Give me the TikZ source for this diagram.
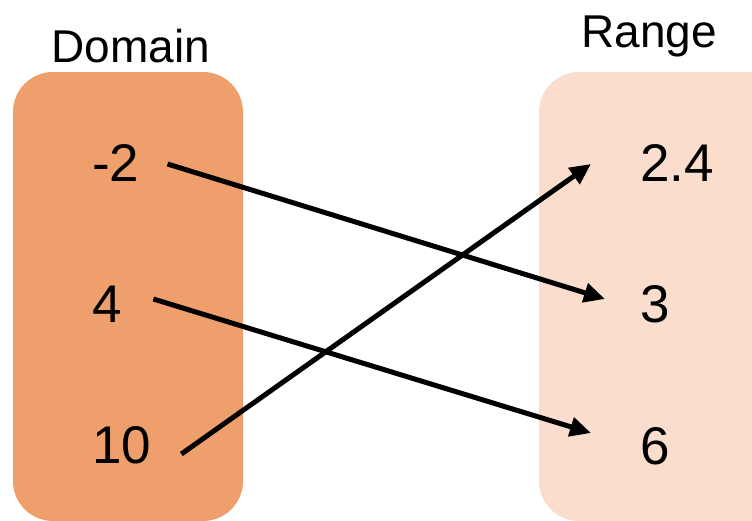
\documentclass[tikz,border=0pt]{standalone}
\usepackage{fontspec}
\setmainfont{Liberation Sans}
\usetikzlibrary{arrows.meta}
\definecolor{domfill}{HTML}{EF9F6C}
\definecolor{rngfill}{HTML}{FADDCD}
\tikzset{
  setbox/.style={rounded corners=40pt},
  num/.style={inner sep=0pt, font=\fontsize{53}{60}\selectfont, anchor=base west},
  title/.style={inner sep=0pt, font=\fontsize{46}{52}\selectfont, anchor=base},
  arr/.style={line width=5pt, -{Triangle[length=21pt,width=19pt]}},
}
\begin{document}
\begin{tikzpicture}[x=1pt,y=-1pt]
\useasboundingbox (0,0) rectangle (752,520);
\clip (0,0) rectangle (752,520);
\fill[domfill, setbox] (13,72) rectangle (243,521);
\fill[rngfill, setbox] (539,72) rectangle (800,521);
\node[title] (dom) at (131,62) {Domain};
\node[title] (rng) at (649,47) {Range};
\node[num] (m2) at (92,181) {-2};
\node[num] (m4) at (92,322) {4};
\node[num] (m10) at (92,463) {10};
\node[num] (r24) at (640,181) {2.4};
\node[num] (r3) at (640,322) {3};
\node[num] (r6) at (640,464) {6};
\draw[arr] ([shift={(28,-17)}]m2.base east) -- ([shift={(-35,-23)}]r3.base west);
\draw[arr] ([shift={(31.5,-23)}]m4.base east) -- ([shift={(-49,-31)}]r6.base west);
\draw[arr] ([shift={(30,-9)}]m10.base east) -- ([shift={(-49,-17)}]r24.base west);
\end{tikzpicture}
\end{document}
